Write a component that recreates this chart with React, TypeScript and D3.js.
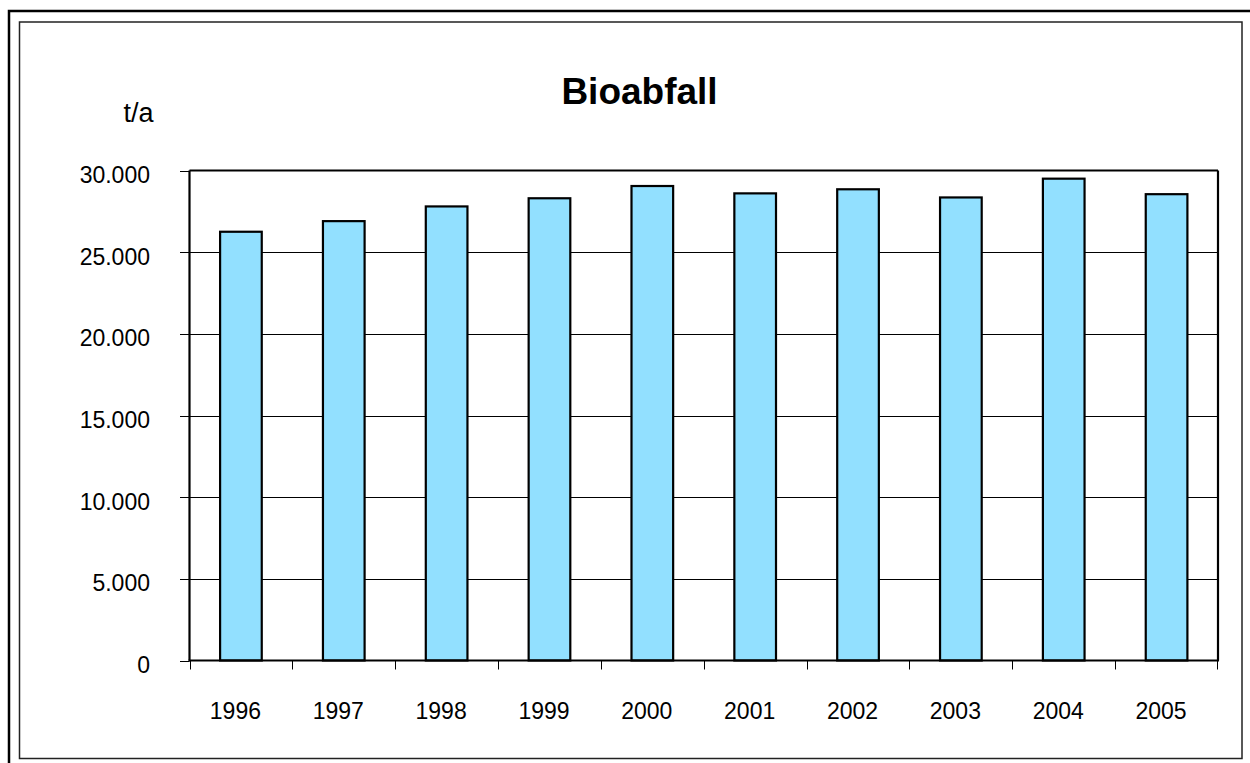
import React from "react";
import * as d3 from "d3";

const years = ["1996", "1997", "1998", "1999", "2000", "2001", "2002", "2003", "2004", "2005"];
const values = [26250, 26900, 27800, 28300, 29050, 28600, 28850, 28350, 29500, 28550];
const yTicks = [0, 5000, 10000, 15000, 20000, 25000, 30000];
const title = "Bioabfall";
const unitLabel = "t/a";

const W = 1250;
const H = 763;
const left = 189.5;
const right = 1218;
const top = 170.5;
const bottom = 660.5;

const fmt = (v: number) => (v === 0 ? "0" : d3.format(",")(v).replace(/,/g, "."));

export default function App() {
  const x = d3.scaleBand<string>().domain(years).range([left, right]).paddingInner(0.595).paddingOuter(0.2975);
  const xCat = d3.scaleBand<string>().domain(years).range([left, right]).padding(0);
  const y = d3.scaleLinear().domain([0, 30000]).range([bottom, top]);
  const font = "'Liberation Sans', Arial, sans-serif";

  return (
    <svg width={W} height={H} style={{ position: "absolute", left: 0, top: 0, background: "#fff" }} fontFamily={font}>
      {/* outer frame */}
      <path d={`M9,${H} L9,11 L${W},11`} fill="none" stroke="#000" strokeWidth={2.5} />
      {/* inner frame */}
      <rect x={19.5} y={22} width={1222.5} height={736.5} fill="#fff" stroke="#222" strokeWidth={1.5} />

      <text x={639.5} y={104} textAnchor="middle" fontSize={37} fontWeight="bold" fill="#000">{title}</text>
      <text x={138.5} y={122} textAnchor="middle" fontSize={27} fill="#000">{unitLabel}</text>

      {/* gridlines */}
      {yTicks.filter((t) => t > 0 && t < 30000).map((t) => (
        <line key={"g" + t} x1={left} x2={right} y1={Math.round(y(t)) + 0.5} y2={Math.round(y(t)) + 0.5} stroke="#000" strokeWidth={1} />
      ))}

      {/* bars */}
      {years.map((yr, i) => (
        <rect key={yr} x={x(yr)} y={y(values[i])} width={x.bandwidth()} height={bottom - y(values[i])}
          fill="#92E0FF" stroke="#000" strokeWidth={2.2} />
      ))}

      {/* plot frame */}
      <line x1={left} x2={right} y1={top} y2={top} stroke="#000" strokeWidth={2.2} />
      <line x1={right} x2={right} y1={top} y2={bottom} stroke="#000" strokeWidth={2.2} />
      <line x1={left} x2={left} y1={top} y2={bottom} stroke="#000" strokeWidth={2.2} />
      <line x1={left - 1} x2={right + 1} y1={bottom} y2={bottom} stroke="#000" strokeWidth={2.2} />

      {/* y ticks and labels */}
      {yTicks.map((t) => (
        <g key={"y" + t}>
          <line x1={180} x2={left} y1={Math.round(y(t)) + 0.5} y2={Math.round(y(t)) + 0.5} stroke="#000" strokeWidth={1} />
          <text x={150} y={y(t) + 12.5} textAnchor="end" fontSize={23} fill="#000">{fmt(t)}</text>
        </g>
      ))}

      {/* x ticks */}
      {years.map((yr) => (
        <line key={"xt" + yr} x1={Math.round(xCat(yr)!) + 0.5} x2={Math.round(xCat(yr)!) + 0.5} y1={bottom} y2={bottom + 9} stroke="#000" strokeWidth={1} />
      ))}
      <line x1={right - 0.5} x2={right - 0.5} y1={bottom} y2={bottom + 9} stroke="#000" strokeWidth={1} />

      {/* x labels */}
      {years.map((yr) => (
        <text key={"xl" + yr} x={xCat(yr)! + xCat.bandwidth() / 2 - 5.5} y={719} textAnchor="middle" fontSize={23} fill="#000">{yr}</text>
      ))}
    </svg>
  );
}
